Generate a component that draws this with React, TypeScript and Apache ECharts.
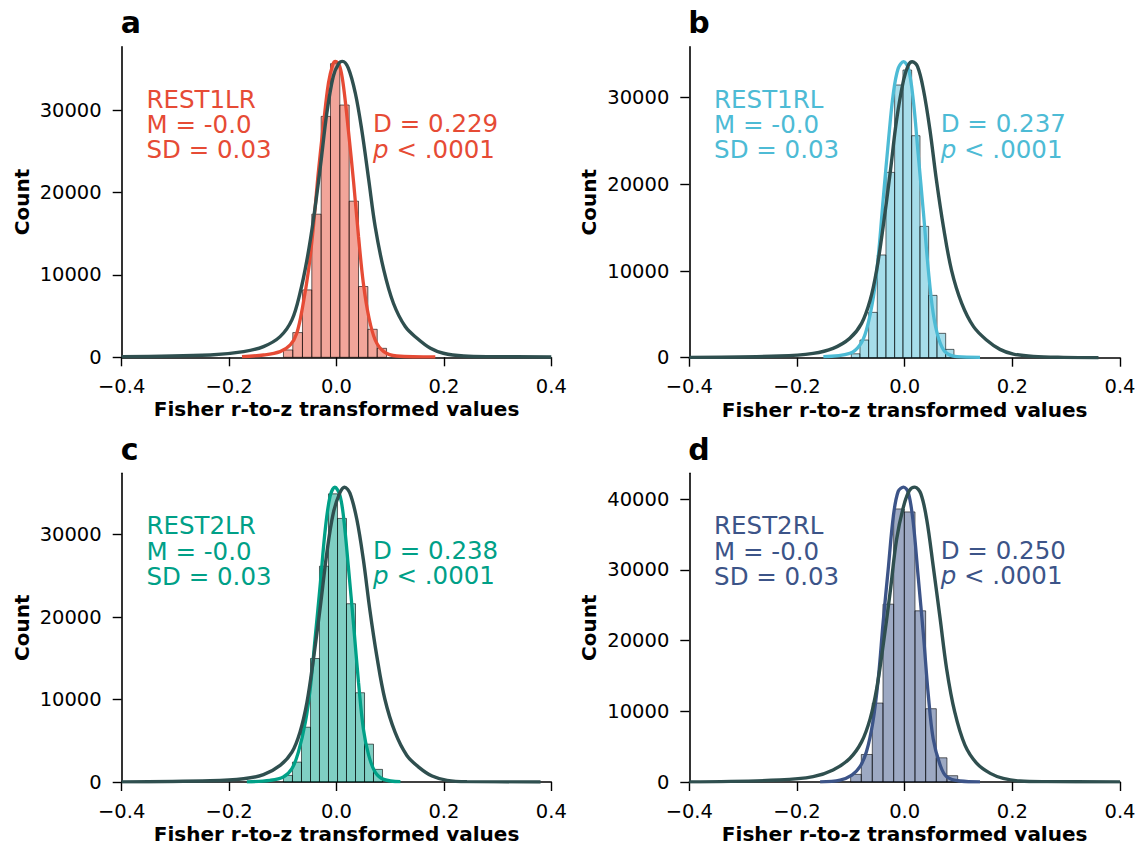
import React, { useEffect, useRef } from 'react';
import * as echarts from 'echarts';

const W = 1139;
const H = 845;
const FONT = "'DejaVu Sans', sans-serif";

const X_TICKS = [-0.4, -0.2, 0, 0.2, 0.4];
const Y_TICKS = [0, 10000, 20000, 30000];
const Y_TICKS_D = [0, 10000, 20000, 30000, 40000];

const NAMES = ['REST1LR', 'REST1RL', 'REST2LR', 'REST2RL'];
const MEANS = ['-0.0', '-0.0', '-0.0', '-0.0'];
const SDS = ['0.03', '0.03', '0.03', '0.03'];
const DSTATS = ['0.229', '0.237', '0.238', '0.250'];
const LETTERS = ['a', 'b', 'c', 'd'];
const COLORS = ['#E64B35', '#4DBBD5', '#00A087', '#3C5488'];
const FILLS = ['rgba(230,75,53,0.5)', 'rgba(77,187,213,0.5)', 'rgba(0,160,135,0.5)', 'rgba(60,84,136,0.5)'];
const REF_COLOR = '#2F4F4F';

// histogram bin edges and counts
const A_EDGES = [-0.0988, -0.0814, -0.0634, -0.046, -0.0286, -0.0112, 0.0062, 0.0236, 0.041, 0.0584, 0.0758, 0.0932];
const A_COUNTS = [890, 3000, 8180, 17370, 29240, 35640, 30620, 18950, 8590, 3400, 1090];
const B_EDGES = [-0.0991, -0.083, -0.0669, -0.0508, -0.0347, -0.0186, -0.0031, 0.013, 0.0285, 0.0446, 0.0601, 0.0762, 0.0916];
const B_COUNTS = [450, 2040, 5230, 11850, 21380, 31460, 33190, 25610, 15150, 7190, 2810, 960];
const C_EDGES = [-0.0988, -0.082, -0.0652, -0.0484, -0.0317, -0.0149, 0.0019, 0.0186, 0.0354, 0.0522, 0.0689, 0.0857];
const C_COUNTS = [800, 2410, 6640, 14970, 26160, 34930, 31950, 21610, 10820, 4590, 1530];
const D_EDGES = [-0.1003, -0.0805, -0.0601, -0.0402, -0.0204, -0.0006, 0.0192, 0.039, 0.0588, 0.0786, 0.0985];
const D_COUNTS = [1080, 3890, 11160, 25140, 38600, 38180, 24200, 10360, 3420, 890];

// KDE of each session (coloured line)
const A_KDE = [[-0.176, 80], [-0.136, 280], [-0.105, 690], [-0.086, 1500], [-0.074, 2920], [-0.063, 6160], [-0.052, 10610], [-0.043, 15880], [-0.034, 22360], [-0.024, 28430], [-0.015, 33290], [-0.007, 35520], [-0.002, 35920], [0.006, 35320], [0.013, 32890], [0.022, 27620], [0.032, 21140], [0.041, 14660], [0.05, 8990], [0.06, 4940], [0.072, 2110], [0.088, 690], [0.112, 160], [0.184, 40]];
const B_KDE = [[-0.151, 115], [-0.102, 500], [-0.083, 1460], [-0.071, 3190], [-0.058, 7040], [-0.049, 11650], [-0.04, 18190], [-0.03, 25110], [-0.021, 30500], [-0.012, 33380], [-0.002, 34150], [0.007, 33380], [0.016, 29730], [0.025, 23580], [0.035, 16650], [0.044, 10110], [0.053, 5120], [0.063, 2230], [0.075, 690], [0.097, 115], [0.14, 40]];
const C_KDE = [[-0.167, 20], [-0.124, 200], [-0.099, 600], [-0.083, 1610], [-0.071, 3620], [-0.058, 7240], [-0.049, 11270], [-0.04, 17300], [-0.03, 24140], [-0.021, 30580], [-0.012, 34610], [-0.003, 35730], [0.006, 34810], [0.013, 32190], [0.022, 26160], [0.032, 18910], [0.041, 12070], [0.05, 6440], [0.06, 3220], [0.072, 1210], [0.088, 320], [0.119, 40]];
const D_KDE = [[-0.157, 20], [-0.12, 280], [-0.098, 980], [-0.083, 2160], [-0.071, 4270], [-0.059, 8490], [-0.049, 14590], [-0.04, 22560], [-0.03, 30530], [-0.021, 37570], [-0.012, 41080], [-0.002, 41690], [0.007, 40850], [0.016, 36630], [0.025, 29120], [0.035, 20680], [0.044, 12240], [0.053, 6120], [0.066, 2390], [0.078, 750], [0.103, 140], [0.14, 20]];

// reference distribution (dark line)
const A_REF = [[-0.4, 80], [-0.235, 280], [-0.173, 690], [-0.136, 1300], [-0.105, 2510], [-0.083, 4540], [-0.068, 7780], [-0.055, 11830], [-0.043, 16690], [-0.03, 23170], [-0.018, 29650], [-0.006, 34100], [0.004, 35640], [0.011, 35920], [0.022, 35110], [0.035, 32080], [0.047, 27620], [0.06, 21550], [0.072, 15880], [0.088, 10610], [0.106, 6560], [0.128, 3730], [0.15, 2310], [0.175, 1090], [0.199, 490], [0.237, 160], [0.293, 80], [0.4, 40]];
const B_REF = [[-0.4, 40], [-0.232, 190], [-0.17, 500], [-0.133, 1080], [-0.102, 2230], [-0.08, 3960], [-0.064, 6650], [-0.052, 10110], [-0.04, 15110], [-0.027, 21270], [-0.015, 27420], [-0.002, 32040], [0.007, 33770], [0.014, 34150], [0.024, 33580], [0.035, 30880], [0.047, 26270], [0.059, 20500], [0.072, 15110], [0.087, 10110], [0.106, 6270], [0.128, 3580], [0.152, 2040], [0.177, 960], [0.202, 420], [0.239, 150], [0.295, 40], [0.36, 0]];
const C_REF = [[-0.4, 20], [-0.235, 160], [-0.173, 400], [-0.136, 890], [-0.105, 2010], [-0.083, 3620], [-0.068, 6040], [-0.055, 9660], [-0.043, 14890], [-0.03, 21330], [-0.018, 27770], [-0.006, 32590], [0.006, 35010], [0.015, 35730], [0.025, 35010], [0.038, 31790], [0.05, 26960], [0.062, 20920], [0.075, 15290], [0.09, 10060], [0.109, 6040], [0.131, 3220], [0.153, 1810], [0.178, 720], [0.206, 200], [0.243, 40], [0.38, 0]];
const D_REF = [[-0.4, 20], [-0.232, 280], [-0.17, 750], [-0.133, 1690], [-0.102, 3330], [-0.08, 5670], [-0.064, 8960], [-0.052, 13180], [-0.04, 19280], [-0.027, 26780], [-0.015, 34280], [-0.002, 38970], [0.009, 41220], [0.019, 41690], [0.03, 40760], [0.041, 37100], [0.053, 30530], [0.066, 23030], [0.078, 15990], [0.093, 9900], [0.112, 5210], [0.134, 2630], [0.159, 1220], [0.183, 520], [0.214, 140], [0.264, 50], [0.4, 20]];

const EDGES = [A_EDGES, B_EDGES, C_EDGES, D_EDGES];
const COUNTS = [A_COUNTS, B_COUNTS, C_COUNTS, D_COUNTS];
const KDES = [A_KDE, B_KDE, C_KDE, D_KDE];
const REFS = [A_REF, B_REF, C_REF, D_REF];
const Y_MAX = [37700, 35880, 37420, 43640];

const GRIDS = [
  { left: 121.7, top: 46.7, width: 429.6, height: 310.6 },
  { left: 689.3, top: 46.7, width: 430.7, height: 311 },
  { left: 121.7, top: 473.3, width: 429.6, height: 310 },
  { left: 689.3, top: 473.3, width: 430.7, height: 310.3 },
];

function fmtX(v: number) {
  if (Math.abs(v) < 1e-9) return '0.0';
  return (v < 0 ? '\u2212' : '') + Math.abs(v).toFixed(1);
}

function buildOption() {
  const grid: any[] = [];
  const xAxis: any[] = [];
  const yAxis: any[] = [];
  const series: any[] = [];
  const graphic: any[] = [];
  const axisText = { color: '#000', fontFamily: FONT, fontSize: 19.5 };
  const nameText = { color: '#000', fontFamily: FONT, fontSize: 20, fontWeight: 'bold' };

  for (let i = 0; i < 4; i++) {
    const g = GRIDS[i];
    grid.push({ ...g, containLabel: false });
    xAxis.push({
      type: 'value', gridIndex: i, min: -0.4, max: 0.4,
      name: 'Fisher r-to-z transformed values', nameLocation: 'middle', nameGap: 42,
      nameTextStyle: nameText,
      axisLine: { show: true, onZero: false, lineStyle: { color: '#000', width: 1.6 } },
      axisTick: { show: true, length: 9, lineStyle: { color: '#000', width: 1.4 }, customValues: X_TICKS },
      axisLabel: { ...axisText, margin: 19, customValues: X_TICKS, formatter: fmtX },
      splitLine: { show: false },
    });
    const yt = i === 3 ? Y_TICKS_D : Y_TICKS;
    yAxis.push({
      type: 'value', gridIndex: i, min: 0, max: Y_MAX[i],
      name: 'Count', nameLocation: 'middle', nameGap: 90,
      nameTextStyle: nameText,
      axisLine: { show: true, onZero: false, lineStyle: { color: '#000', width: 1.6 } },
      axisTick: { show: true, length: 9, lineStyle: { color: '#000', width: 1.4 }, customValues: yt },
      axisLabel: { ...axisText, margin: 20, customValues: yt, formatter: (v: number) => String(Math.round(v)) },
      splitLine: { show: false },
    });

    const edges = EDGES[i];
    const counts = COUNTS[i];
    const bars = counts.map((c, k) => [edges[k], edges[k + 1], c]);
    const fill = FILLS[i];
    series.push({
      type: 'custom', xAxisIndex: i, yAxisIndex: i, z: 1,
      encode: { x: [0, 1], y: 2 },
      data: bars,
      renderItem: (params: any, api: any) => {
        const p0 = api.coord([api.value(0), api.value(2)]);
        const p1 = api.coord([api.value(1), 0]);
        return {
          type: 'rect',
          shape: { x: p0[0], y: p0[1], width: p1[0] - p0[0], height: p1[1] - p0[1] },
          style: { fill, stroke: 'rgba(0,0,0,0.6)', lineWidth: 1 },
        };
      },
    });
    series.push({
      type: 'line', xAxisIndex: i, yAxisIndex: i, z: 3,
      data: KDES[i], smooth: 0.35, showSymbol: false, symbol: 'none', clip: true,
      lineStyle: { color: COLORS[i], width: 3.3 },
    });
    series.push({
      type: 'line', xAxisIndex: i, yAxisIndex: i, z: 4,
      data: REFS[i], smooth: 0.35, showSymbol: false, symbol: 'none', clip: true,
      lineStyle: { color: REF_COLOR, width: 3.4 },
    });

    const fs = 24.5;
    const lh = 25.2;
    const lx = g.left + 24.8;
    const rx = g.left + 251.4;
    const b1 = g.top + 61;
    const top1 = b1 - 0.346 * fs - lh / 2;
    const c = COLORS[i];
    const base = { fontFamily: FONT, fontSize: fs, lineHeight: lh, fill: c, color: c };
    graphic.push({
      type: 'text', x: lx, y: top1,
      style: {
        text: `${NAMES[i]}\nM = ${MEANS[i]}\nSD = ${SDS[i]}`,
        fill: c, font: `${fs}px ${FONT}`, lineHeight: lh, textAlign: 'left', textVerticalAlign: 'top',
      },
    });
    graphic.push({
      type: 'text', x: rx, y: top1 + lh - 0.5,
      style: {
        text: `{n|D = ${DSTATS[i]}}\n{i|p}{n| < .0001}`,
        fill: c, font: `${fs}px ${FONT}`, lineHeight: lh, textAlign: 'left', textVerticalAlign: 'top',
        rich: { n: { ...base }, i: { ...base, fontStyle: 'italic' } },
      },
    });
    const lfs = 30;
    graphic.push({
      type: 'text', x: g.left - 1, y: g.top - 13.5 - 0.346 * lfs,
      style: { text: LETTERS[i], fill: '#000', font: `bold ${lfs}px ${FONT}`, textAlign: 'left', textVerticalAlign: 'middle' },
    });
  }

  return { animation: false, backgroundColor: '#fff', grid, xAxis, yAxis, series, graphic };
}

export default function App() {
  const ref = useRef<HTMLDivElement>(null);
  useEffect(() => {
    const chart = echarts.init(ref.current!, null, { renderer: 'svg', width: W, height: H });
    chart.setOption(buildOption() as any);
    return () => chart.dispose();
  }, []);
  return <div ref={ref} style={{ position: 'absolute', left: 0, top: 0, width: W, height: H, background: '#fff' }} />;
}
